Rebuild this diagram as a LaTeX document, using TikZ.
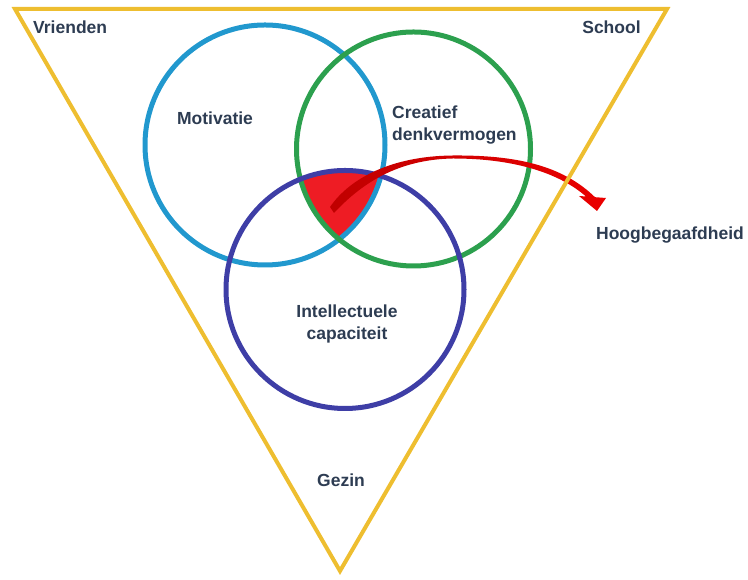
\documentclass[tikz,border=0pt]{standalone}
\usepackage{fontspec}
\setmainfont{Liberation Sans}
\definecolor{ringblue}{RGB}{33,152,206}
\definecolor{ringgreen}{RGB}{44,160,78}
\definecolor{ringpurple}{RGB}{62,62,166}
\definecolor{framegold}{RGB}{238,190,48}
\definecolor{corered}{RGB}{238,28,36}
\definecolor{labelslate}{RGB}{45,60,82}

\begin{document}
\begin{tikzpicture}[x=1pt,y=1pt,
		ring/.style={line width=5pt},
		lbl/.style={font=\fontsize{17.5}{22}\selectfont\bfseries, text=labelslate, inner sep=0pt}]
		%%%%% START %%%%%
		\useasboundingbox (0, 0) rectangle (748, 580);
		
		% kern: overlap of the three circles
		\begin{scope}
			\clip (265, 435) circle (120);
			\clip (413.5, 431) circle (117);
			\fill[corered] (345, 290.5) circle (119);
		\end{scope}
		
		\draw[ring, ringblue] (265, 435) circle (120);
		\draw[ring, ringgreen] (413.5, 431) circle (117);
		\draw[ring, ringpurple] (345, 290.5) circle (119);
		
		% curved arrow out of the kern
		\shade[left color=red!75!black, right color=red!92!black]
			(330, 373) .. controls (350, 402) and (392, 424) .. (453, 424.5)
			.. controls (515, 425) and (562, 415) .. (595, 382.8)
			-- (606, 382) -- (597, 369) -- (579, 384) -- (586, 383.5)
			.. controls (558, 408) and (512, 421.5) .. (453, 421.5)
			.. controls (398, 420.5) and (362, 397) .. (334, 367) -- cycle;
		
		\draw[line width=4pt, framegold, line join=miter] (15, 571) -- (667, 571) -- (340, 9) -- cycle;
		
		\node[lbl, anchor=west] (vrienden) at (33, 553) {Vrienden};
		\node[lbl] (school) at (611.5, 553) {School};
		\node[lbl] (motivatie) at (215, 462) {Motivatie};
		\node[lbl, anchor=west, align=left] (creatief) at (392, 455) {Creatief\\denkvermogen};
		\node[lbl] (hoog) at (670, 345) {Hoogbegaafdheid};
		\node[lbl, align=center] (intellect) at (347, 256) {Intellectuele\\capaciteit};
		\node[lbl] (gezin) at (341, 100) {Gezin};
		%%%%% END %%%%%
	\end{tikzpicture}
\end{document}
